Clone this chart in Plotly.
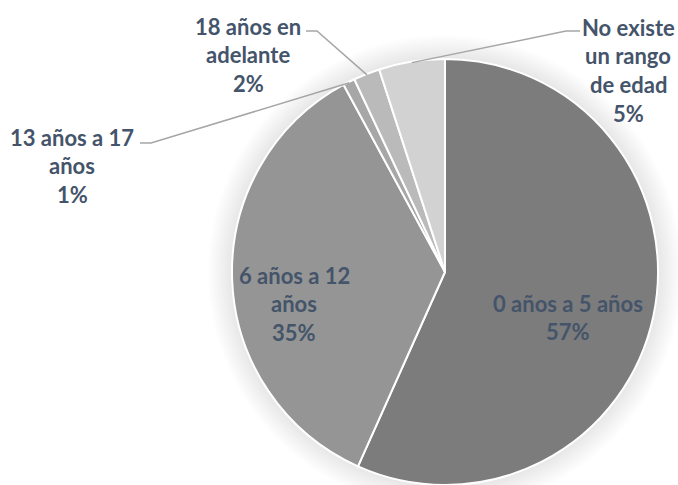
import math
import plotly.graph_objects as go

# ---- data ----
categories = ["0 años a 5 años", "6 años a 12 años", "13 años a 17 años",
              "18 años en adelante", "No existe un rango de edad"]
values = [56.7, 35.4, 0.9, 2.0, 5.0]
label_lines = [["0 años a 5 años"], ["6 años a 12", "años"], ["13 años a 17", "años"],
               ["18 años en", "adelante"], ["No existe", "un rango", "de edad"]]

# ---- style / layout ----
colors = ["#7c7c7c", "#959595", "#a7a7a7", "#bababa", "#d2d2d2"]
W, H = 678, 485
R = 213
CX = 445
CY = H - R
label_pos = [(568, 303), (294, 275), (72, 137), (248, 26), (628, 27)]
leader_knee = [None, None, [(140, 143), (151, 143)], [(306, 31), (317, 31)], [(580, 31), (566, 31)]]
LINE_GAP = 28.7
TEXT_COLOR = "#44546a"
FONT = "Lato"
FONT_SIZE = 22


def px(x):
    return x / W


def py(y):
    return 1 - y / H


fig = go.Figure(go.Pie(
    labels=categories, values=values, sort=False, direction="clockwise", rotation=0,
    marker=dict(colors=colors, line=dict(color="#ffffff", width=2)),
    textinfo="none", hoverinfo="label+percent", showlegend=False,
    domain=dict(x=[(CX - R) / W, (CX + R) / W], y=[0, 2 * R / H]),
))

shapes = []
# soft glow around the pie
for k in range(2, 26, 2):
    shapes.append(dict(type="circle", xref="paper", yref="paper", xsizemode="pixel", ysizemode="pixel",
                       xanchor=px(CX), yanchor=py(CY), x0=-(R + k), x1=R + k, y0=-(R + k), y1=R + k,
                       fillcolor="rgba(0,0,0,0.007)", line=dict(width=0), layer="below"))

total = sum(values)
cum = 0
annotations = []
for i, v in enumerate(values):
    frac_mid = (cum + v / 2) / total
    cum += v
    pct = f"{round(v / total * 100)}%"
    lines = label_lines[i] + [pct]
    lx, ly = label_pos[i]
    for j, t in enumerate(lines):
        annotations.append(dict(x=px(lx), y=py(ly + j * LINE_GAP), xref="paper", yref="paper",
                                text=f"<b>{t}</b>", showarrow=False, xanchor="center", yanchor="middle",
                                font=dict(family=FONT, size=FONT_SIZE, color=TEXT_COLOR)))
    if leader_knee[i]:
        th = 2 * math.pi * frac_mid
        ex = CX + (R - 1) * math.sin(th)
        ey = CY - (R - 1) * math.cos(th)
        (ax, ay), (bx, by) = leader_knee[i]
        path = f"M {px(ax)},{py(ay)} L {px(bx)},{py(by)} L {px(ex)},{py(ey)}"
        shapes.append(dict(type="path", xref="paper", yref="paper", path=path,
                           line=dict(color="#a6a6a6", width=1.5)))

fig.update_layout(width=W, height=H, margin=dict(l=0, r=0, t=0, b=0),
                  paper_bgcolor="#ffffff", plot_bgcolor="#ffffff",
                  shapes=shapes, annotations=annotations)
fig.write_html("out.html", config={"displayModeBar": False},
               post_script="document.body.style.margin='0';document.body.style.overflow='hidden';")
